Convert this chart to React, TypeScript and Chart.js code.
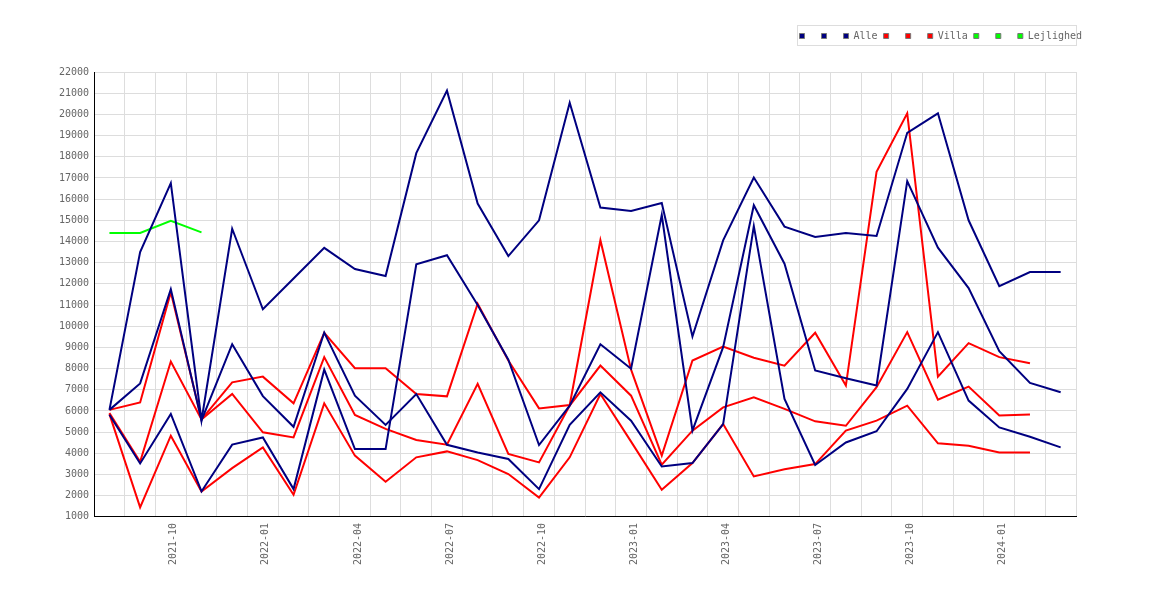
import React, { useEffect, useRef } from "react";
import { Chart, registerables } from "chart.js";

Chart.register(...registerables);

const months = [
  "2021-08", "2021-09", "2021-10", "2021-11", "2021-12",
  "2022-01", "2022-02", "2022-03", "2022-04", "2022-05", "2022-06",
  "2022-07", "2022-08", "2022-09", "2022-10", "2022-11", "2022-12",
  "2023-01", "2023-02", "2023-03", "2023-04", "2023-05", "2023-06",
  "2023-07", "2023-08", "2023-09", "2023-10", "2023-11", "2023-12",
  "2024-01", "2024-02", "2024-03",
];

// Alle (navy)
const alleHigh = [
  6050, 13500, 16750, 5550, 14600, 10800, 12250, 13700, 12700, 12370, 18170,
  21120, 15790, 13310, 15000, 20550, 15600, 15440, 15820, 9510, 14050, 17020,
  14700, 14210, 14400, 14260, 19130, 20050, 15000, 11890, 12560, 12560,
];
const alleLow = [
  6050, 7300, 11750, 5550, 9150, 6700, 5250, 9700, 6720, 5340, 6800, 4400,
  4040, 3730, 2310, 5350, 6880, 5540, 3380, 3540, 5380, 14730, 6570, 3450,
  4510, 5040, 7040, 9720, 6490, 5220, 4780, 4280,
];
const alleMid = [
  5820, 3520, 5860, 2200, 4410, 4750, 2310, 7950, 4200, 4200, 12920, 13350,
  11000, 8420, 4390, 6250, 9150, 7990, 15250, 5070, 9010, 15710, 12950, 7910,
  7540, 7200, 16850, 13710, 11800, 8820, 7320, 6880,
];

// Villa (red)
const villaHigh = [
  6050, 6400, 11600, 5600, 7350, 7620, 6360, 9690, 8020, 8020, 6800, 6690,
  11060, 8380, 6120, 6280, 14060, 7950, 3890, 8380, 9040, 8510, 8140, 9690,
  7200, 17290, 20050, 7620, 9200, 8540, 8250, null,
];
const villaMid = [
  5900, 3600, 8330, 5600, 6800, 4990, 4750, 8540, 5810, 5150, 4630, 4410,
  7280, 3970, 3570, 6250, 8140, 6720, 3460, 5070, 6170, 6640, 6100, 5510,
  5300, 7120, 9720, 6530, 7150, 5780, 5830, null,
];
const villaLow = [
  5850, 1450, 4830, 2200, 3300, 4280, 2040, 6360, 3890, 2660, 3810, 4090,
  3680, 3020, 1910, 3810, 6800, 4550, 2280, 3540, 5380, 2910, 3250, 3490,
  5070, 5540, 6250, 4470, 4360, 4040, 4040, null,
];

// Lejlighed (green)
const lejlighedA = [14400, 14400, 14970, 14430];
const lejlighedB: (number | null)[] = [];
const lejlighedC: (number | null)[] = [];

const yTicks = { min: 1000, max: 22000, step: 1000 };

const NAVY = "#000080";
const RED = "#ff0000";
const GREEN = "#00ff00";

const line = (label: string, data: (number | null)[], color: string) => ({
  label,
  data,
  borderColor: color,
  backgroundColor: color,
  borderWidth: 2,
  pointRadius: 0,
  tension: 0,
  fill: false,
});

// gives the legend extra room below and draws a thin frame around it
const legendFrame = {
  id: "legendFrame",
  beforeInit(chart: any) {
    const fit = chart.legend.fit;
    chart.legend.fit = function () {
      fit.bind(chart.legend)();
      this.height += 21;
    };
  },
  afterDraw(chart: any) {
    const hb = chart.legend?.legendHitBoxes;
    if (!hb || !hb.length) return;
    const ctx = chart.ctx;
    const left = Math.round(hb[0].left - 3) + 0.5;
    const top = Math.round(hb[0].top - 6) + 0.5;
    const right = Math.round(chart.chartArea.right) + 0.5;
    ctx.save();
    ctx.strokeStyle = "#dddddd";
    ctx.lineWidth = 1;
    ctx.strokeRect(left, top, right - left, 20);
    ctx.restore();
  },
};

export default function App() {
  const ref = useRef<HTMLCanvasElement | null>(null);

  useEffect(() => {
    if (!ref.current) return;

    Chart.defaults.font.family = "'DejaVu Sans Mono', monospace";
    Chart.defaults.font.size = 10;
    Chart.defaults.color = "#666";

    const chart = new Chart(ref.current, {
      type: "line",
      data: {
        labels: months,
        datasets: [
          line(" ", alleHigh, NAVY),
          line(" ", alleLow, NAVY),
          line("Alle", alleMid, NAVY),
          line(" ", villaHigh, RED),
          line(" ", villaMid, RED),
          line("Villa", villaLow, RED),
          line(" ", lejlighedA, GREEN),
          line(" ", lejlighedB, GREEN),
          line("Lejlighed", lejlighedC, GREEN),
        ],
      },
      options: {
        animation: false,
        responsive: true,
        maintainAspectRatio: false,
        layout: { padding: { top: 17, left: 46, right: 74, bottom: 21 } },
        plugins: {
          tooltip: { enabled: false },
          legend: {
            position: "top",
            align: "end",
            labels: {
              boxWidth: 5,
              boxHeight: 5,
              padding: 6,
              color: "#666",
              generateLabels: (c) =>
                Chart.defaults.plugins.legend.labels
                  .generateLabels(c)
                  .map((l) => ({ ...l, strokeStyle: "#777", lineWidth: 1 })),
            },
          },
        },
        scales: {
          x: {
            offset: true,
            grid: { color: "#dddddd", offset: true, drawTicks: false },
            border: { color: "#000", width: 1 },
            ticks: {
              autoSkip: false,
              minRotation: 90,
              maxRotation: 90,
              padding: 6,
              labelOffset: 3,
              callback: function (_v, i) {
                const m = months[i];
                const mm = m.slice(5);
                return ["01", "04", "07", "10"].includes(mm) ? m : "";
              },
            },
          },
          y: {
            min: yTicks.min,
            max: yTicks.max,
            grid: { color: "#dddddd", drawTicks: false },
            border: { color: "#000", width: 1 },
            ticks: {
              stepSize: yTicks.step,
              padding: 5,
              callback: (v) => String(v),
            },
          },
          pad: {
            type: "linear",
            position: "right",
            grid: { display: false },
            border: { display: false },
            ticks: { display: false },
            afterFit: (s: any) => {
              s.width = 12;
            },
          },
        },
      },
      plugins: [legendFrame],
    });

    return () => chart.destroy();
  }, []);

  return (
    <div style={{ width: 1154, height: 584 }}>
      <canvas ref={ref} />
    </div>
  );
}
